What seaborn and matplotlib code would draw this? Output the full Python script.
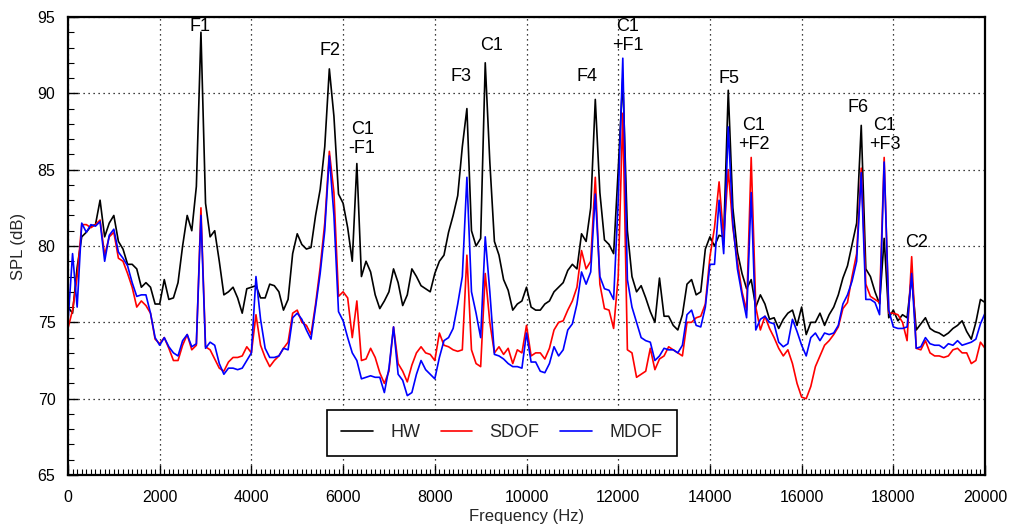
import numpy as np
import pandas as pd
import matplotlib
matplotlib.use("Agg")
import matplotlib.pyplot as plt
from matplotlib.lines import Line2D
from matplotlib.ticker import MultipleLocator
import seaborn as sns

sns.set_theme(style="white")
plt.rcParams['font.family'] = ['Liberation Sans', 'DejaVu Sans']

# Frequency grid (Hz), 100 Hz spacing
freq = np.arange(0, 20001, 100)

hw = [
    76.0, 75.6, 78.6, 80.6, 80.9, 81.3, 81.4, 83.0, 80.6, 81.5,
    82.0, 80.3, 79.8, 78.8, 78.8, 78.5, 77.3, 77.6, 77.3, 76.2,
    76.2, 77.8, 76.5, 76.6, 77.6, 80.0, 82.0, 81.0, 83.9, 94.0,
    82.8, 80.6, 81.0, 79.0, 76.8, 77.0, 77.3, 76.6, 75.6, 77.2,
    77.3, 77.4, 76.6, 76.6, 77.5, 77.4, 77.0, 75.8, 76.5, 79.5,
    80.8, 80.1, 79.8, 79.9, 82.0, 83.7, 86.5, 91.6, 88.5, 83.4,
    82.8, 81.2, 79.0, 85.4, 78.0, 79.0, 78.3, 76.8, 75.9, 76.4,
    77.0, 78.5, 77.6, 76.1, 76.8, 78.5, 78.0, 77.4, 77.2, 77.0,
    78.2, 79.0, 79.4, 80.9, 82.0, 83.3, 86.5, 89.0, 81.0, 80.0,
    80.5, 92.0, 85.5, 80.3, 79.4, 77.8, 77.1, 75.8, 76.2, 76.4,
    77.3, 76.0, 75.8, 75.8, 76.2, 76.4, 77.0, 77.3, 77.6, 78.4,
    78.8, 78.5, 80.8, 80.3, 82.5, 89.6, 83.5, 80.4, 80.1, 79.5,
    85.0, 91.0, 81.0, 78.0, 77.0, 77.4, 76.6, 75.7, 75.0, 77.9,
    75.4, 75.4, 74.8, 74.5, 75.5, 77.5, 77.8, 76.8, 77.0, 79.8,
    80.6, 80.0, 80.7, 80.6, 90.2, 82.5, 79.6, 78.2, 77.2, 77.8,
    76.0, 76.8, 76.2, 75.2, 75.3, 74.6, 75.2, 75.6, 75.8, 74.8,
    76.0, 74.2, 75.0, 75.0, 75.6, 74.8, 75.5, 76.0, 76.8, 77.9,
    78.7, 80.1, 81.5, 87.9, 78.5, 78.0, 77.0, 76.2, 80.5, 75.3,
    75.8, 75.1, 75.5, 75.3, 78.0, 74.5, 74.9, 75.3, 74.6, 74.4,
    74.3, 74.1, 74.3, 74.6, 74.8, 75.1, 74.4, 73.9, 75.0, 76.5,
    76.3,
]

sdof = [
    74.6, 75.8, 78.0, 81.4, 81.4, 81.2, 81.4, 81.7, 79.4, 80.6,
    80.9, 79.2, 79.0, 78.2, 77.3, 76.0, 76.4, 76.1, 75.6, 73.9,
    73.6, 74.0, 73.3, 72.5, 72.5, 73.5, 74.2, 73.2, 73.5, 82.5,
    73.4, 73.2, 72.6, 72.0, 71.8, 72.4, 72.7, 72.7, 72.8, 73.4,
    73.0, 75.5, 73.5, 72.7, 72.1, 72.5, 72.8, 73.3, 73.7, 75.6,
    75.8, 75.0, 74.8, 74.2, 76.2, 78.6, 81.5, 86.2, 83.5, 76.7,
    77.0, 76.6, 74.0, 76.4, 72.5, 72.6, 73.3, 72.7, 71.7, 71.0,
    71.8, 74.7, 72.3, 71.8, 71.1, 72.2, 73.0, 73.4, 73.0, 72.9,
    72.5, 74.3, 73.5, 73.4, 73.2, 73.1, 73.2, 79.4, 73.2, 72.3,
    72.1, 78.2, 75.0, 73.0, 73.4, 72.9, 73.3, 72.3, 73.2, 73.0,
    74.8, 72.8, 73.0, 73.0, 72.6, 73.3, 74.5, 75.0, 75.1, 75.8,
    76.4, 77.3, 79.7, 78.5, 79.0, 84.5, 77.5, 75.9, 75.8, 74.6,
    78.0, 88.7, 73.2, 73.0, 71.4, 71.6, 71.8, 73.3, 71.9, 72.6,
    72.8, 73.4, 73.2, 73.0, 72.8, 75.0, 75.0, 75.3, 75.4, 76.2,
    79.3, 81.2, 84.2, 80.5, 85.0, 81.2, 79.0, 77.0, 75.8, 85.8,
    76.0, 74.5, 75.4, 74.6, 74.0, 73.3, 72.8, 73.2, 72.3, 71.0,
    70.1, 70.0, 70.8, 72.1, 72.8, 73.5, 73.8, 74.2, 74.7, 75.9,
    76.3, 78.0, 79.5, 85.1, 77.5, 76.7, 76.5, 76.3, 85.8, 75.6,
    75.6, 75.5, 75.0, 73.8, 79.3, 73.3, 73.2, 73.8, 73.0, 72.8,
    72.8, 72.7, 72.8, 73.2, 73.3, 73.0, 73.0, 72.3, 72.5, 73.7,
    73.3,
]

mdof = [
    75.0, 79.5, 76.0, 81.5, 80.9, 81.4, 81.3, 81.6, 79.0, 80.7,
    81.1, 79.6, 79.2, 78.7, 77.6, 76.7, 76.8, 76.8, 75.6, 74.0,
    73.5, 74.0, 73.4, 73.0, 72.8, 73.8, 74.2, 73.4, 73.6, 82.0,
    73.3, 73.7, 73.5, 72.3, 71.6, 72.0, 72.0, 71.9, 72.0, 72.5,
    73.0, 78.0, 75.2, 73.3, 72.7, 72.7, 72.8, 73.3, 73.2, 75.3,
    75.6, 75.2, 74.5, 73.9, 76.0, 78.2, 81.0, 85.9, 82.0, 75.7,
    75.1, 74.0, 73.0, 72.5, 71.3, 71.4, 71.5, 71.4, 71.4, 70.4,
    72.0, 74.7, 71.6, 71.2, 70.2, 70.4, 71.6, 72.5, 71.9, 71.6,
    71.3, 72.7, 73.8, 74.0, 74.6, 76.2, 78.0, 84.5, 77.0, 75.6,
    74.0, 80.6, 77.0, 72.9, 72.8, 72.6, 72.3, 72.1, 72.1, 72.0,
    74.3, 72.4, 72.4, 71.8, 71.7, 72.3, 73.4, 72.8, 73.2, 74.5,
    74.9, 76.2, 78.3, 77.5, 78.3, 83.4, 78.0, 77.2, 77.1, 76.5,
    83.0, 92.3, 77.8, 76.0, 75.0, 74.0, 73.8, 73.7, 72.5, 72.8,
    73.3, 73.2, 73.2, 73.0, 73.5, 75.5, 75.8, 74.8, 74.7, 76.0,
    78.8, 78.8, 83.0, 79.5, 87.8, 81.5, 78.5, 76.8, 75.3, 83.5,
    74.5, 75.2, 75.4, 75.0, 74.9, 73.7, 73.4, 73.6, 75.2, 74.4,
    73.5, 72.8, 74.0, 74.3, 73.8, 74.3, 74.2, 74.3, 74.8, 76.2,
    76.8, 77.7, 79.0, 84.8, 76.5, 76.5, 76.3, 75.5, 85.5, 75.8,
    74.7, 74.6, 74.6, 74.7, 78.2, 73.3, 73.4, 74.0, 73.6, 73.5,
    73.5, 73.3, 73.6, 73.5, 73.8, 73.5, 73.6, 73.7, 73.9, 74.9,
    75.6,
]

series_names = ["HW", "SDOF", "MDOF"]
series_colors = ["#000000", "#ff0000", "#0000ff"]

# Peak annotations: label, frequency, level
ann_labels = ["F1", "F2", "C1\n-F1", "F3", "C1", "F4", "C1\n+F1", "F5",
              "C1\n+F2", "F6", "C1\n+F3", "C2"]
ann_freq = [2887, 5719, 6416, 8573, 9248, 11318, 12211, 14412,
            14956, 17222, 17810, 18510]
ann_level = [94.35, 92.8, 87.0, 91.1, 93.1, 91.1, 93.75, 91.0,
             87.3, 89.1, 87.3, 80.2]

df = pd.DataFrame({
    "freq": np.concatenate([freq, freq, freq]),
    "spl": np.concatenate([hw, sdof, mdof]),
    "series": np.repeat(series_names, len(freq)),
})

fig = plt.figure(figsize=(10.13, 5.32), dpi=100)
ax = fig.add_axes([0.0671, 0.1071, 0.9053, 0.861])

sns.lineplot(data=df, x="freq", y="spl", hue="series",
             palette=dict(zip(series_names, series_colors)),
             hue_order=series_names, estimator=None, sort=False,
             linewidth=1.2, legend=False, ax=ax)

ax.set_xlim(0, 20000)
ax.set_ylim(65, 95)
ax.xaxis.set_major_locator(MultipleLocator(2000))
ax.xaxis.set_minor_locator(MultipleLocator(100))
ax.yaxis.set_major_locator(MultipleLocator(5))
ax.yaxis.set_minor_locator(MultipleLocator(1))
ax.tick_params(axis="both", which="both", direction="in",
               bottom=True, left=True, top=False, right=False,
               labelsize=11.5, colors="black")
ax.tick_params(axis="both", which="major", length=7, width=1)
ax.tick_params(axis="both", which="minor", length=4, width=0.8)
ax.tick_params(axis="x", which="major", pad=11)
ax.tick_params(axis="y", which="major", pad=9)
ax.grid(True, which="major", color="black", linestyle=(0, (1, 3)),
        linewidth=0.9)
for s in ax.spines.values():
    s.set_color("black")
    s.set_linewidth(1.6)

ax.set_xlabel("Frequency (Hz)", fontsize=12, labelpad=3)
ax.set_ylabel("SPL (dB)", fontsize=12, labelpad=8)

for lab, f, v in zip(ann_labels, ann_freq, ann_level):
    ax.text(f, v, lab, ha="center", va="center", fontsize=13,
            linespacing=1.15, color="black")

handles = [Line2D([0], [0], color=c, lw=1.2) for c in series_colors]
leg = ax.legend(handles, series_names, loc="center",
                bbox_to_anchor=(0.473, 0.092), ncol=3, fontsize=13,
                frameon=True, fancybox=False, edgecolor="black",
                framealpha=1, handlelength=1.75, handletextpad=0.95,
                columnspacing=1.15, borderpad=0.8)
leg.get_frame().set_linewidth(1.2)

fig.savefig("out.png", dpi=100)
